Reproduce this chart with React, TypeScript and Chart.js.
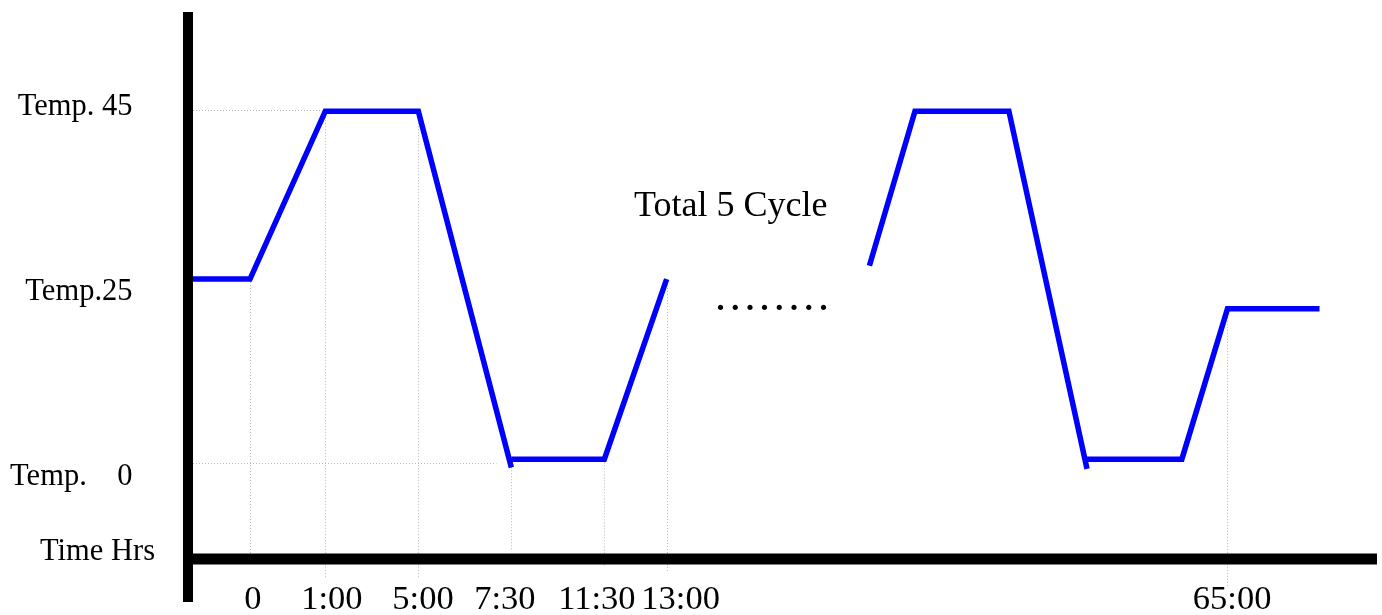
import { useEffect, useRef } from "react";
import { Chart, registerables } from "chart.js";

Chart.register(...registerables);

// Schematic x positions (one unit ≈ one step between the chart's marked times)
const xTickValues = [0, 0.81, 1.81, 2.81, 3.81, 4.48, 10.51];
const xTickLabels = ["0", "1:00", "5:00", "7:30", "11:30", "13:00", "65:00"];
// where each tick label is centred (same schematic units)
const xLabelPos = [0.032, 0.88, 1.86, 2.74, 3.73, 4.63, 10.56];
// vertical guide extents (temperature units)
const guideTop = [23.4, 44.8, 44.8, -0.6, 0.4, 23.4, 19.6];
const guideBottom = [-11.9, -14.7, -14.7, -11.2, -13.3, -14.1, -16.0];

// horizontal guides
const yGuideValues = [45, 0];
const yGuideEnd = [0.81, 2.65];

// y labels (baseline positions in temperature units)
const yLabels = ["Temp. 45", "Temp.25", "Temp.    0"];
const yLabelBase = [44.3, 20.7, -2.85];
const xAxisTitle = "Time Hrs";
const xAxisTitleBase = -12.4;

// annotations
const noteText = "Total 5 Cycle";
const notePos = { x: 5.17, y: 31.4 };
const ellipsisText = "........";
const ellipsisPos = { x: 5.0, y: 19.45 };

// temperature profile segments
const cycle1Heat = [
  { x: -0.62, y: 23.4 },
  { x: 0, y: 23.4 },
  { x: 0.81, y: 44.8 },
  { x: 1.81, y: 44.8 },
  { x: 2.81, y: -0.64 },
];
const cycle1Cold = [
  { x: 2.81, y: 0.43 },
  { x: 3.81, y: 0.43 },
  { x: 4.48, y: 23.4 },
];
const cycle5Heat = [
  { x: 6.66, y: 25.1 },
  { x: 7.15, y: 44.8 },
  { x: 8.16, y: 44.8 },
  { x: 9.0, y: -0.8 },
];
const cycle5Cold = [
  { x: 9.0, y: 0.43 },
  { x: 10.02, y: 0.43 },
  { x: 10.51, y: 19.6 },
  { x: 11.5, y: 19.6 },
];

const SERIF = '"Liberation Serif", "Times New Roman", serif';

const decorPlugin = {
  id: "decor",
  beforeDatasetsDraw(chart: any) {
    const { ctx, chartArea, scales } = chart;
    const xs = scales.x;
    const ys = scales.y;
    ctx.save();
    ctx.strokeStyle = "#b8b8b8";
    ctx.lineWidth = 1;
    ctx.setLineDash([1, 2]);
    xTickValues.forEach((v, i) => {
      const px = Math.round(xs.getPixelForValue(v)) + 0.5;
      ctx.beginPath();
      ctx.moveTo(px, ys.getPixelForValue(guideTop[i]));
      ctx.lineTo(px, ys.getPixelForValue(guideBottom[i]));
      ctx.stroke();
    });
    yGuideValues.forEach((v, i) => {
      const py = Math.round(ys.getPixelForValue(v)) + 0.5;
      ctx.beginPath();
      ctx.moveTo(chartArea.left + 5, py);
      ctx.lineTo(xs.getPixelForValue(yGuideEnd[i]), py);
      ctx.stroke();
    });
    ctx.restore();
  },
  afterDatasetsDraw(chart: any) {
    const { ctx, chartArea, scales } = chart;
    const xs = scales.x;
    const ys = scales.y;
    ctx.save();
    ctx.setLineDash([]);
    ctx.fillStyle = "#000";
    // axes
    ctx.fillRect(chartArea.left - 5, chartArea.top, 10, chartArea.bottom - chartArea.top + 43);
    ctx.fillRect(chartArea.left - 5, chartArea.bottom - 5.5, chartArea.right - chartArea.left + 5, 11);

    // x tick labels
    ctx.font = `34.5px ${SERIF}`;
    ctx.textAlign = "center";
    ctx.textBaseline = "alphabetic";
    xLabelPos.forEach((v, i) => {
      ctx.fillText(xTickLabels[i], xs.getPixelForValue(v), chartArea.bottom + 50);
    });

    // y labels
    ctx.font = `30.5px ${SERIF}`;
    ctx.textAlign = "right";
    yLabels.forEach((t, i) => {
      ctx.fillText(t, chartArea.left - 55.5, ys.getPixelForValue(yLabelBase[i]));
    });
    ctx.fillText(xAxisTitle, chartArea.left - 33, ys.getPixelForValue(xAxisTitleBase));

    // annotations
    ctx.font = `36px ${SERIF}`;
    ctx.textAlign = "center";
    ctx.fillText(noteText, xs.getPixelForValue(notePos.x), ys.getPixelForValue(notePos.y));

    ctx.font = `44px ${SERIF}`;
    ctx.textAlign = "left";
    (ctx as any).letterSpacing = "3.7px";
    ctx.fillText(ellipsisText, xs.getPixelForValue(ellipsisPos.x), ys.getPixelForValue(ellipsisPos.y));
    (ctx as any).letterSpacing = "0px";
    ctx.restore();
  },
};

export default function App() {
  const ref = useRef<HTMLCanvasElement | null>(null);

  useEffect(() => {
    if (!ref.current) return;
    const mk = (data: { x: number; y: number }[]) => ({
      data,
      showLine: true,
      borderColor: "#0000ff",
      backgroundColor: "#0000ff",
      borderWidth: 5.5,
      pointRadius: 0,
      borderCapStyle: "butt" as const,
      borderJoinStyle: "miter" as const,
      tension: 0,
      fill: false,
    });
    const chart = new Chart(ref.current, {
      type: "scatter",
      data: {
        datasets: [mk(cycle1Heat), mk(cycle1Cold), mk(cycle5Heat), mk(cycle5Cold)],
      },
      options: {
        animation: false,
        responsive: false,
        devicePixelRatio: 1,
        layout: { padding: { left: 188, right: 5, top: 12, bottom: 56 } },
        plugins: { legend: { display: false }, tooltip: { enabled: false } },
        scales: {
          x: { type: "linear", min: -0.6667, max: 12.118, display: false },
          y: { type: "linear", min: -12.3, max: 57.45, display: false },
        },
      },
      plugins: [decorPlugin],
    });
    return () => chart.destroy();
  }, []);

  return (
    <div style={{ position: "fixed", left: 0, top: 0, width: 1382, height: 615, background: "#fff" }}>
      <canvas ref={ref} width={1382} height={615} style={{ display: "block" }} />
    </div>
  );
}
